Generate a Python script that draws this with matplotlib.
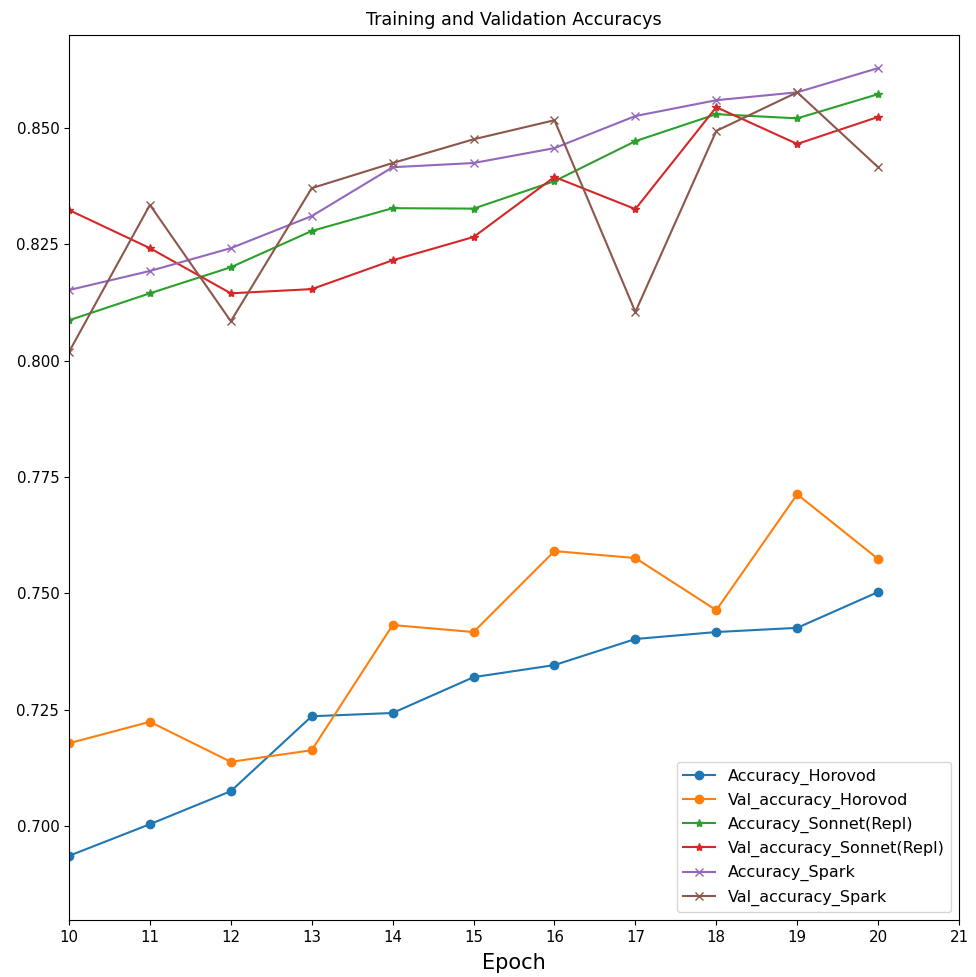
import matplotlib
matplotlib.use("Agg")
import matplotlib.pyplot as plt

epochs = list(range(10, 21))

acc_horovod = [0.6936, 0.7004, 0.7075, 0.7236, 0.7243, 0.7320, 0.7346, 0.7402, 0.7417, 0.7426, 0.7503]
val_acc_horovod = [0.7178, 0.7224, 0.7138, 0.7163, 0.7432, 0.7417, 0.7591, 0.7576, 0.7464, 0.7713, 0.7574]
acc_sonnet = [0.8087, 0.8145, 0.8201, 0.8279, 0.8328, 0.8327, 0.8386, 0.8472, 0.8530, 0.8521, 0.8573]
val_acc_sonnet = [0.8324, 0.8242, 0.8145, 0.8154, 0.8216, 0.8266, 0.8395, 0.8326, 0.8545, 0.8466, 0.8524]
acc_spark = [0.8152, 0.8193, 0.8242, 0.8311, 0.8416, 0.8425, 0.8457, 0.8526, 0.8560, 0.8577, 0.8629]
val_acc_spark = [0.8019, 0.8335, 0.8085, 0.8371, 0.8425, 0.8476, 0.8517, 0.8105, 0.8494, 0.8577, 0.8416]

fig = plt.figure(figsize=(9.76, 9.77), dpi=100)
ax = fig.add_axes([0.0707, 0.0583, 0.9119, 0.9058])

ax.plot(epochs, acc_horovod, marker="o", label="Accuracy_Horovod")
ax.plot(epochs, val_acc_horovod, marker="o", label="Val_accuracy_Horovod")
ax.plot(epochs, acc_sonnet, marker="*", label="Accuracy_Sonnet(Repl)")
ax.plot(epochs, val_acc_sonnet, marker="*", label="Val_accuracy_Sonnet(Repl)")
ax.plot(epochs, acc_spark, marker="x", label="Accuracy_Spark")
ax.plot(epochs, val_acc_spark, marker="x", label="Val_accuracy_Spark")

ax.set_xlim(10, 21)
ax.set_xticks(range(10, 22))
ax.set_ylim(0.6798, 0.8700)
ax.tick_params(labelsize=10.8)
ax.set_title("Training and Validation Accuracys", fontsize=12.6, pad=7)
ax.set_xlabel("Epoch", fontsize=15, labelpad=6)
ax.legend(loc="lower right", fontsize=11.5)

fig.savefig("out.png", dpi=100)
